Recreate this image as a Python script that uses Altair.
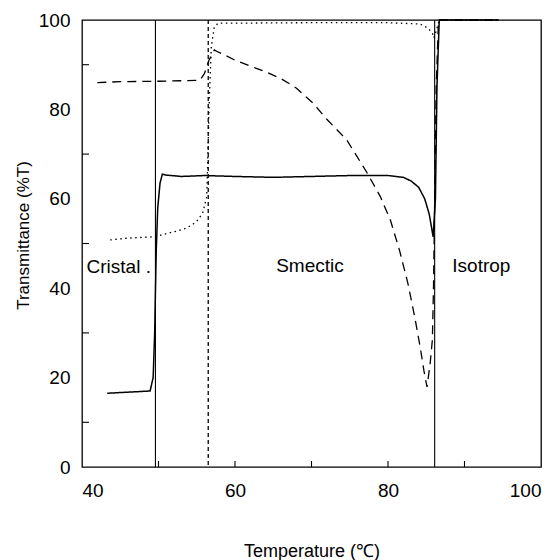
import altair as alt
import pandas as pd

# Heating scan: transmittance of three samples across the phase transitions
solid_t = [43.3, 48.9, 49.3, 49.5, 49.7, 49.9, 50.2, 50.5, 51.0, 53.0, 56.0, 60.0, 65.0,
           70.0, 75.0, 80.0, 82.0, 83.0, 84.0, 84.8, 85.4, 85.9, 86.2, 86.4, 86.7, 90.0, 94.5]
solid_v = [16.5, 17.0, 20.0, 30.0, 48.0, 58.0, 63.5, 65.5, 65.3, 65.0, 65.2, 65.0, 64.8,
           65.0, 65.2, 65.2, 64.8, 64.0, 62.6, 60.0, 56.5, 51.5, 60.0, 85.0, 100.0, 100.0, 100.0]

dashed_t = [42.0, 45.0, 50.0, 55.4, 56.0, 56.6, 57.3, 57.6, 58.5, 60.0, 62.0, 64.0, 66.0,
            68.0, 70.2, 72.0, 74.6, 77.2, 79.0, 80.3, 81.5, 82.6, 83.5, 84.2, 84.7, 85.1,
            85.5, 85.8, 85.95, 86.1, 86.3, 86.6, 90.0, 94.5]
dashed_v = [86.0, 86.2, 86.3, 86.5, 88.0, 91.0, 93.3, 93.0, 92.3, 91.0, 89.7, 88.4, 86.9,
            84.8, 81.4, 77.8, 73.2, 66.0, 60.5, 55.3, 48.5, 41.1, 33.5, 26.9, 21.5, 17.9,
            23.0, 28.4, 40.3, 59.7, 85.0, 100.0, 100.0, 100.0]

dotted_t = [43.7, 46.0, 49.5, 51.2, 52.5, 53.7, 54.5, 55.2, 55.8, 56.3, 56.4, 56.6, 56.9,
            57.3, 57.8, 60.0, 70.0, 80.0, 84.2, 85.2, 85.8, 86.0, 86.3, 86.7, 90.0, 94.5]
dotted_v = [50.8, 51.2, 51.5, 52.3, 52.8, 53.5, 54.3, 55.3, 57.0, 60.4, 66.0, 80.0, 94.0,
            98.5, 99.3, 99.3, 99.4, 99.4, 99.1, 98.2, 97.1, 96.0, 97.5, 100.0, 100.0, 100.0]

# Phase boundaries
solid_bounds = [49.6, 86.1]
dashed_bounds = [56.5]

# Phase names
phase_names = ["Cristal .", "Smectic", "Isotrop"]
phase_t = [44.8, 69.8, 92.2]
phase_v = [43.3, 43.6, 43.6]

x_labels = [40, 60, 80, 100]
y_labels = [0, 20, 40, 60, 80, 100]
x_minor = [50, 60, 70, 80, 90]
y_minor = [10, 30, 50, 70, 90]

FONT = "Liberation Sans"
W, H = 459, 447

xs = alt.Scale(domain=[40, 100], nice=False, zero=False)
ys = alt.Scale(domain=[0, 100], nice=False, zero=True)

x_axis = alt.Axis(values=x_labels, title="Temperature (℃)", labelPadding=14,
                  titleFontSize=18, titleFontWeight="normal", titleFont=FONT,
                  titleY=89, titleBaseline="alphabetic")
y_axis = alt.Axis(values=y_labels, title="Transmittance (%T)", labelPadding=12,
                  titleFontSize=17, titleFontWeight="normal", titleFont=FONT,
                  titleX=-54, titleY=215, titleBaseline="alphabetic")


def curve(t, v, dash, width):
    df = pd.DataFrame({"t": t, "v": v})
    mark = alt.Chart(df).mark_line(color="black", strokeWidth=width, strokeDash=dash)
    return mark.encode(
        x=alt.X("t:Q", scale=xs, axis=x_axis),
        y=alt.Y("v:Q", scale=ys, axis=y_axis),
        order="t:Q",
    )


solid = curve(solid_t, solid_v, [1, 0], 1.5)
dashed = curve(dashed_t, dashed_v, [9, 6], 1.3)
dotted = curve(dotted_t, dotted_v, [1.5, 3.5], 1.3)

bound_solid = alt.Chart(pd.DataFrame({"t": solid_bounds})).mark_rule(
    color="black", strokeWidth=1.1
).encode(x=alt.X("t:Q", scale=xs, axis=x_axis))

bound_dashed = alt.Chart(pd.DataFrame({"t": dashed_bounds})).mark_rule(
    color="black", strokeWidth=1.3, strokeDash=[4, 3]
).encode(x=alt.X("t:Q", scale=xs, axis=x_axis))

# inward-pointing ticks along the bottom and left edges
xticks = alt.Chart(pd.DataFrame({"t": x_minor})).mark_rule(
    color="black", strokeWidth=1.1
).encode(x=alt.X("t:Q", scale=xs, axis=x_axis), y=alt.value(H), y2=alt.value(H - 6))

yticks = alt.Chart(pd.DataFrame({"v": y_minor})).mark_rule(
    color="black", strokeWidth=1.1
).encode(y=alt.Y("v:Q", scale=ys, axis=y_axis), x=alt.value(0), x2=alt.value(7))

phases = alt.Chart(pd.DataFrame({"name": phase_names, "t": phase_t, "v": phase_v})).mark_text(
    font=FONT, fontSize=19, color="black", align="center", baseline="alphabetic"
).encode(
    x=alt.X("t:Q", scale=xs, axis=x_axis),
    y=alt.Y("v:Q", scale=ys, axis=y_axis),
    text="name:N",
)

chart = (
    alt.layer(bound_solid, bound_dashed, dotted, dashed, solid, xticks, yticks, phases)
    .properties(
        width=W,
        height=H,
        autosize=alt.AutoSizeParams(type="none"),
        padding={"left": 82, "top": 20, "right": 19, "bottom": 93},
        background="white",
    )
    .configure_view(stroke="black", strokeWidth=1.3)
    .configure_axis(
        domain=False, ticks=False, grid=False,
        labelFont=FONT, labelFontSize=19, labelColor="black", titleColor="black",
    )
)

chart.save("out.html", embed_options={"renderer": "svg", "actions": False})
